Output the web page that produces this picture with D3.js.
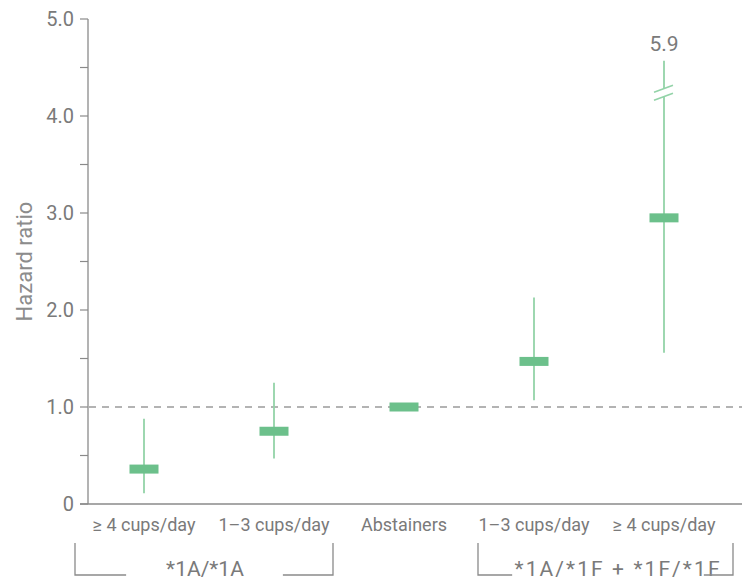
<!DOCTYPE html>
<html>
<head>
<meta charset="utf-8">
<script src="https://cdn.jsdelivr.net/npm/d3@7"></script>
<style>
  body { margin: 0; background: #fff; }
  svg { display: block; font-family: Roboto, "DejaVu Sans", sans-serif; }
</style>
</head>
<body>
<svg width="742" height="581"></svg>
<script>
const svg = d3.select("svg");

// data
const categories = ["≥ 4 cups/day", "1–3 cups/day", "Abstainers", "1–3 cups/day", "≥ 4 cups/day"];
const hr = [0.36, 0.75, 1.0, 1.47, 2.95];
const lower = [0.11, 0.47, null, 1.07, 1.56];
const upper = [0.88, 1.25, null, 2.13, 5.9];
const groups = ["*1A/*1A", "*1A/*1F + *1F/*1F"];
const groupFrom = [0, 3];
const groupTo = [1, 4];
const yTicks = [0, 1, 2, 3, 4, 5];
const yMinor = [0.5, 1.5, 2.5, 3.5, 4.5];
const axisMax = 5;
const breakShown = 4.57; // where the cut-off whisker ends on screen
const breakAt = 4.24;    // where the // marks sit

const green = "#6cc08b";
const whisk = "#93d3a8";
const grey = "#7a7a7a";

const x = d3.scalePoint().domain(d3.range(categories.length)).range([144, 664]);
const y = d3.scaleLinear().domain([0, axisMax]).range([504, 19]);

// axes
svg.append("line")
  .attr("x1", 88).attr("x2", 88)
  .attr("y1", y(axisMax)).attr("y2", y(0))
  .attr("stroke", "#8a8a8a").attr("stroke-width", 1.3);
svg.append("line")
  .attr("x1", 80).attr("x2", 742)
  .attr("y1", y(0)).attr("y2", y(0))
  .attr("stroke", "#8a8a8a").attr("stroke-width", 1.3);

svg.selectAll(".tick")
  .data(yTicks.concat(yMinor))
  .enter().append("line")
  .attr("x1", 80).attr("x2", 88)
  .attr("y1", d => y(d)).attr("y2", d => y(d))
  .attr("stroke", "#8a8a8a").attr("stroke-width", 1.2);

svg.selectAll(".ylab")
  .data(yTicks)
  .enter().append("text")
  .attr("x", 74)
  .attr("y", d => y(d) + 7)
  .attr("text-anchor", "end")
  .attr("font-size", 20)
  .attr("fill", grey)
  .text(d => d === 0 ? "0" : d3.format(".1f")(d));

svg.append("text")
  .attr("transform", `translate(32,${(y(0) + y(axisMax)) / 2}) rotate(-90)`)
  .attr("text-anchor", "middle")
  .attr("font-size", 22)
  .attr("fill", "#8c8c8c")
  .text("Hazard ratio");

// reference line at 1.0
svg.append("line")
  .attr("x1", 89).attr("x2", 742)
  .attr("y1", y(1)).attr("y2", y(1))
  .attr("stroke", "#9a9a9a").attr("stroke-width", 1.3)
  .attr("stroke-dasharray", "7,6");

// whiskers
const idx = d3.range(categories.length).filter(i => lower[i] != null);
svg.selectAll(".whisker")
  .data(idx)
  .enter().append("line")
  .attr("x1", i => x(i)).attr("x2", i => x(i))
  .attr("y1", i => y(lower[i]))
  .attr("y2", i => y(upper[i] > axisMax ? breakShown : upper[i]))
  .attr("stroke", whisk).attr("stroke-width", 1.8);

// axis break on the long whisker
idx.filter(i => upper[i] > axisMax).forEach(i => {
  const cx = x(i), cy = y(breakAt);
  svg.append("rect")
    .attr("x", cx - 3).attr("y", cy - 4)
    .attr("width", 6).attr("height", 8)
    .attr("fill", "#fff");
  [-4, 4].forEach(o => {
    svg.append("line")
      .attr("x1", cx - 10).attr("x2", cx + 9)
      .attr("y1", cy + o + 3.5).attr("y2", cy + o - 3.5)
      .attr("stroke", whisk).attr("stroke-width", 1.6);
  });
  svg.append("text")
    .attr("x", cx).attr("y", 51)
    .attr("text-anchor", "middle")
    .attr("font-size", 21)
    .attr("fill", grey)
    .text(upper[i].toFixed(1));
});

// point estimates
svg.selectAll(".box")
  .data(hr)
  .enter().append("rect")
  .attr("x", (d, i) => x(i) - 14.5)
  .attr("y", d => y(d) - 4.5)
  .attr("width", 29).attr("height", 9)
  .attr("fill", green);

// category labels
svg.selectAll(".cat")
  .data(categories)
  .enter().append("text")
  .attr("x", (d, i) => x(i))
  .attr("y", 531)
  .attr("text-anchor", "middle")
  .attr("font-size", 18)
  .attr("fill", grey)
  .text(d => d);

// group brackets
const bracketTop = 543, bracketY = 575;
const padL = [69, 56], padR = [59, 69];
const textMid = [205, 617], textGapL = [40, 19], textGapR = [39, 1];
groups.forEach((g, k) => {
  const x0 = x(groupFrom[k]) - padL[k], x1 = x(groupTo[k]) + padR[k];
  const t = svg.append("text")
    .attr("x", textMid[k]).attr("y", 576)
    .attr("text-anchor", "middle")
    .attr("font-size", 21)
    .attr("fill", grey)
    .text(g);
  if (k === 1) t.attr("textLength", 205).attr("lengthAdjust", "spacing");
  const w = t.node().getComputedTextLength();
  svg.append("path")
    .attr("d", `M${x0},${bracketTop}V${bracketY}H${textMid[k] - w / 2 - textGapL[k]}`
      + `M${textMid[k] + w / 2 + textGapR[k]},${bracketY}H${x1}V${bracketTop}`)
    .attr("fill", "none")
    .attr("stroke", "#8a8a8a").attr("stroke-width", 1.3);
});
</script>
</body>
</html>
